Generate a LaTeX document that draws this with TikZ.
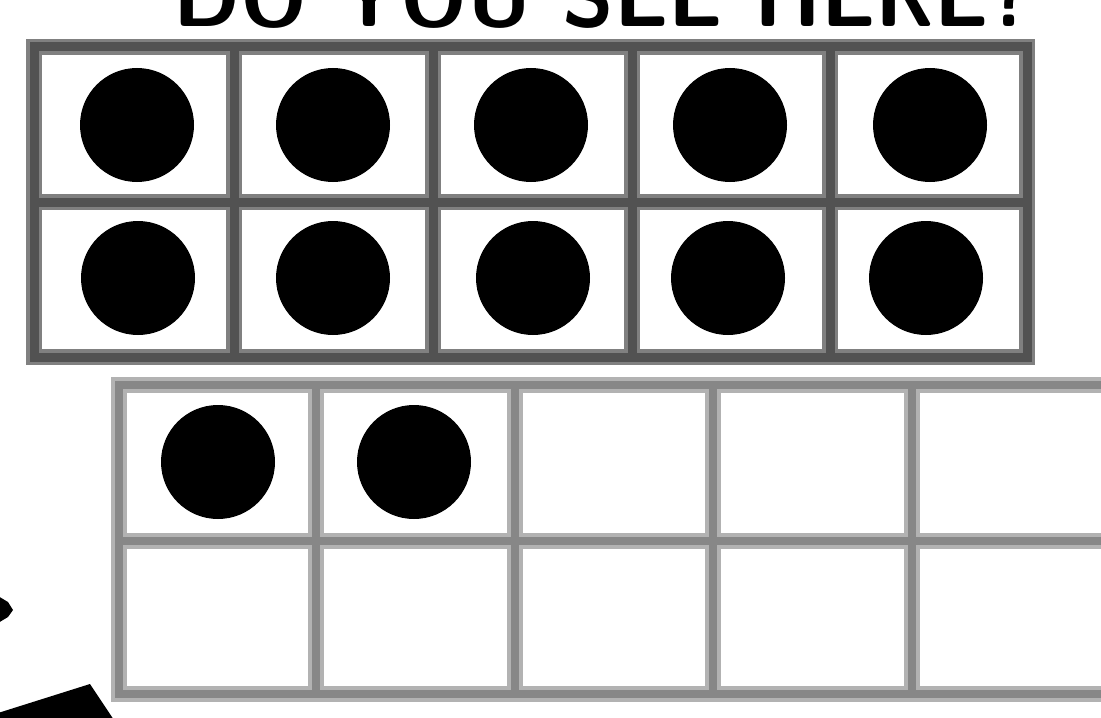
\documentclass[tikz,border=0pt]{standalone}
\usetikzlibrary{calc}
\begin{document}
\begin{tikzpicture}[x=0.5pt,y=-0.5pt,
  dot/.style={circle,fill=black,minimum size=57pt,inner sep=0pt},
  darkouter/.style={draw=black!50,line width=8pt,line cap=rect},
  darkinner/.style={draw=black!68,line width=4.5pt,line cap=rect},
  lightouter/.style={draw=black!30,line width=8pt,line cap=rect},
  lightinner/.style={draw=black!47,line width=4pt,line cap=rect},
  ink/.style={fill=black}]
\useasboundingbox (0,0) rectangle (1101,717);
\clip (0,0) rectangle (1101,717);
\fill[white] (0,0) rectangle (1101,717);
% title (cut off at top, as in the reference)
\node[anchor=base,inner sep=0pt,font=\sffamily\bfseries\fontsize{44}{44}\selectfont,xscale=0.96] (title) at (603,27) {DO YOU SEE HERE?};
% top ten-frame
\foreach \st in {darkouter,darkinner}{
  \foreach \xx in {34,234,433,632,830,1027}{\draw[\st] (\xx,47) -- (\xx,357);}
  \foreach \yy in {47,202,357}{\draw[\st] (34,\yy) -- (1027,\yy);}
}
% bottom ten-frame
\foreach \st in {lightouter,lightinner}{
  \foreach \xx in {119,316,515,713,912,1111}{\draw[\st] (\xx,385) -- (\xx,694);}
  \foreach \yy in {385,541,694}{\draw[\st] (119,\yy) -- (1120,\yy);}
}
% dots
\node[dot] (a1) at (137,125) {};
\node[dot] (a2) at (333,125) {};
\node[dot] (a3) at (531,125) {};
\node[dot] (a4) at (730,125) {};
\node[dot] (a5) at (930,125) {};
\node[dot] (b1) at (138,278) {};
\node[dot] (b2) at (333,278) {};
\node[dot] (b3) at (533,278) {};
\node[dot] (b4) at (728,278) {};
\node[dot] (b5) at (926,278) {};
\node[dot] (c1) at (218,462) {};
\node[dot] (c2) at (414,462) {};
% black shapes at lower left
\fill[ink] (-2,596) -- (8,602) -- (13,610) -- (8,617) -- (-2,623) -- cycle;
\fill[ink] (-2,713) -- (90,684) -- (114,720) -- (-2,720) -- cycle;
\end{tikzpicture}
\end{document}
